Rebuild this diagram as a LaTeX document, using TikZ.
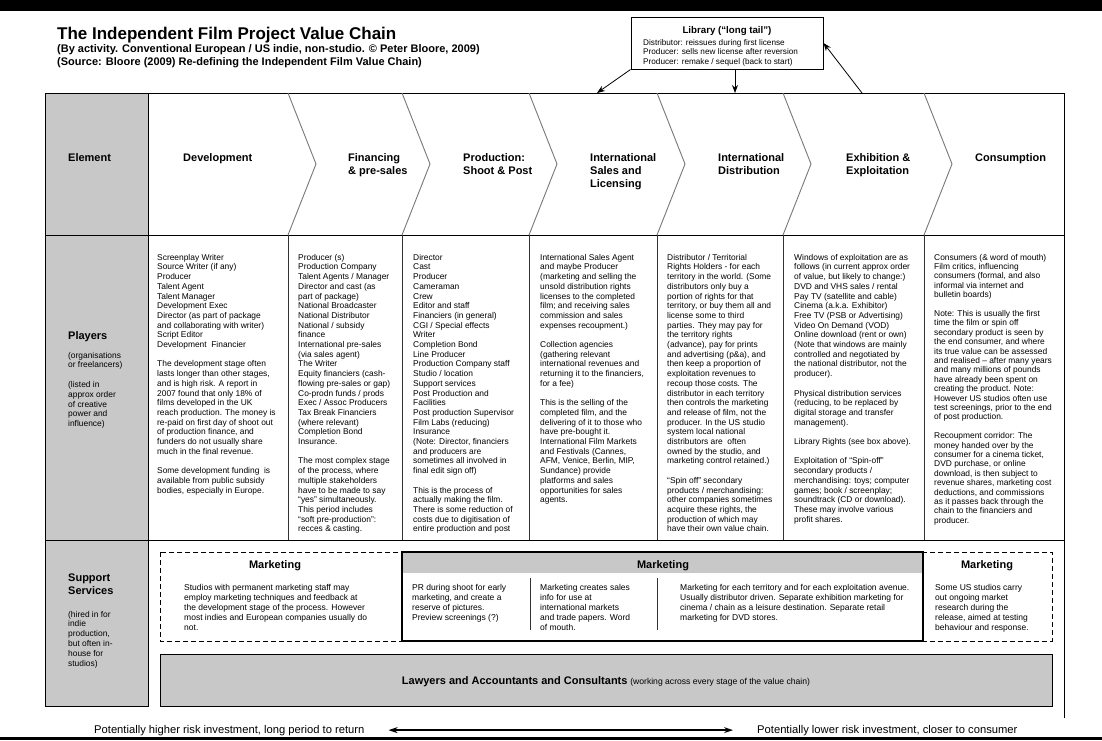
\documentclass[tikz,border=0pt]{standalone}
\usepackage{fontspec}
\setmainfont{Liberation Sans}
\usetikzlibrary{arrows.meta}
\definecolor{panel}{RGB}{200,200,200}
\definecolor{chevgrey}{RGB}{120,120,120}
\begin{document}
\begin{tikzpicture}[x=1pt,y=-1pt,
  every node/.style={inner sep=0pt},
  body/.style={anchor=north west, align=left, font=\fontsize{8.4}{9.7}\selectfont},
  bodyc/.style={anchor=north west, align=left, font=\fontsize{8.4}{9.4}\selectfont},
  stagelbl/.style={anchor=north west, align=left, font=\bfseries\fontsize{11}{13}\selectfont},
  rowlbl/.style={anchor=north west, align=left, font=\bfseries\fontsize{11}{13}\selectfont},
  rowsub/.style={anchor=north west, align=left, font=\fontsize{8.4}{9.8}\selectfont},
  mkhead/.style={anchor=base, font=\bfseries\fontsize{11}{13}\selectfont},
  mktext/.style={anchor=north west, align=left, font=\fontsize{8.5}{10}\selectfont},
  outline/.style={draw=black, line width=1pt},
  colsep/.style={draw=black!80, line width=0.8pt},
  chev/.style={draw=chevgrey, line width=0.9pt},
  dashbox/.style={draw=black, line width=1pt, dash pattern=on 5pt off 3pt},
  arr/.style={-{Stealth[length=8pt,width=6pt]}, line width=0.8pt},
  dblarr/.style={{Stealth[length=9pt,width=6pt]}-{Stealth[length=9pt,width=6pt]}, line width=1.4pt}
]
\useasboundingbox (0,0) rectangle (1102,740);
\fill[white] (0,0) rectangle (1102,740);
\fill[black] (0,0) rectangle (1102,11);
\fill[black] (0,737) rectangle (1102,740);

% title
\node[anchor=base west, font=\bfseries\fontsize{17}{19}\selectfont] (title) at (57,39) {The Independent Film Project Value Chain};
\node[anchor=base west, font=\bfseries\fontsize{11}{12}\selectfont] (sub1) at (57,52) {(By activity. Conventional European / US indie, non-studio. © Peter Bloore, 2009)};
\node[anchor=base west, font=\bfseries\fontsize{11}{12}\selectfont] (sub2) at (57,65) {(Source: Bloore (2009) Re-defining the Independent Film Value Chain)};

% library box
\node[draw=black, line width=1pt, fill=white, minimum width=192pt, minimum height=52pt] (lib) at (727,43) {};
\node[anchor=base, font=\bfseries\fontsize{9.7}{12}\selectfont] (libt) at (727,33.5) {Library (“long tail”)};
\node[anchor=north west, align=left, font=\fontsize{8.2}{9.5}\selectfont] (libx) at (643,38.4) {\strut Distributor: reissues during first license\\Producer: sells new license after reversion\\Producer: remake / sequel (back to start)};

% frame
\filldraw[fill=panel, outline] (45,93) rectangle (148,706);
\draw[outline] (148,93) -- (1064,93);
\draw[outline] (1064,93) -- (1064,718);
\draw[outline] (45,235) -- (1064,235);
\draw[outline] (45,540) -- (1064,540);
\foreach \x in {288,402,529,657,783,924} {
  \draw[colsep] (\x,235) -- (\x,540);
  \draw[chev] (\x,93) -- ({\x+28},164) -- (\x,235);
}

% arrows from library
\coordinate (isTop) at (597,93);
\coordinate (idTop) at (735,93);
\coordinate (exTop) at (862,93);
\draw[arr] (lib.south west) -- (isTop);
\draw[arr] (lib.south -| idTop) -- (idTop);
\draw[arr] (exTop) -- (lib.east);

% stage labels
\node[stagelbl] (s1) at (183,151.9) {\strut Development};
\node[stagelbl] (s2) at (348,151.9) {\strut Financing\\\& pre-sales};
\node[stagelbl] (s3) at (463,151.9) {\strut Production:\\Shoot \& Post};
\node[stagelbl] (s4) at (590,151.9) {\strut International\\Sales and\\Licensing};
\node[stagelbl] (s5) at (718,151.9) {\strut International\\Distribution};
\node[stagelbl] (s6) at (846,151.9) {\strut Exhibition \&\\Exploitation};
\node[stagelbl] (s7) at (975,151.9) {\strut Consumption};

% row labels
\node[rowlbl] (elem) at (68,151.9) {\strut Element};
\node[rowlbl] (play) at (68,329.9) {\strut Players};
\node[rowsub] (playsub) at (68,351.1) {\strut (organisations\\or freelancers)\\[9.8pt](listed in\\approx order\\of creative\\power and\\influence)};
\node[rowlbl] (supp) at (68,571.9) {\strut Support\\Services};
\node[rowsub] (suppsub) at (68,610.1) {\strut (hired in for\\indie\\production,\\but often in-\\house for\\studios)};

% players columns
\node[body] (p1) at (157,253.2) {\strut Screenplay Writer\\Source Writer (if any)\\Producer\\Talent Agent\\Talent Manager\\Development Exec\\Director (as part of package\\and collaborating with writer)\\Script Editor\\Development \ Financier\\[9.7pt]The development stage often\\lasts longer than other stages,\\and is high risk. A report in\\2007 found that only 18\% of\\films developed in the UK\\reach production. The money is\\re-paid on first day of shoot out\\of production finance, and\\funders do not usually share\\much in the final revenue.\\[9.7pt]Some development funding \ is\\available from public subsidy\\bodies, especially in Europe.};

\node[body] (p2) at (298,253.2) {\strut Producer (s)\\Production Company\\Talent Agents / Manager\\Director and cast (as\\part of package)\\National Broadcaster\\National Distributor\\National / subsidy\\finance\\International pre-sales\\(via sales agent)\\The Writer\\Equity financiers (cash-\\flowing pre-sales or gap)\\Co-prodn funds / prods\\Exec / Assoc Producers\\Tax Break Financiers\\(where relevant)\\Completion Bond\\Insurance.\\[9.7pt]The most complex stage\\of the process, where\\multiple stakeholders\\have to be made to say\\“yes” simultaneously.\\This period includes\\“soft pre-production”:\\recces \& casting.};

\node[body] (p3) at (413,253.2) {\strut Director\\Cast\\Producer\\Cameraman\\Crew\\Editor and staff\\Financiers (in general)\\CGI / Special effects\\Writer\\Completion Bond\\Line Producer\\Production Company staff\\Studio / location\\Support services\\Post Production and\\Facilities\\Post production Supervisor\\Film Labs (reducing)\\Insurance\\(Note: Director, financiers\\and producers are\\sometimes all involved in\\final edit sign off)\\[9.7pt]This is the process of\\actually making the film.\\There is some reduction of\\costs due to digitisation of\\entire production and post};

\node[body] (p4) at (540,253.2) {\strut International Sales Agent\\and maybe Producer\\(marketing and selling the\\unsold distribution rights\\licenses to the completed\\film; and receiving sales\\commission and sales\\expenses recoupment.)\\[9.7pt]Collection agencies\\(gathering relevant\\international revenues and\\returning it to the financiers,\\for a fee)\\[9.7pt]This is the selling of the\\completed film, and the\\delivering of it to those who\\have pre-bought it.\\International Film Markets\\and Festivals (Cannes,\\AFM, Venice, Berlin, MIP,\\Sundance) provide\\platforms and sales\\opportunities for sales\\agents.};

\node[body] (p5) at (667,253.2) {\strut Distributor / Territorial\\Rights Holders - for each\\territory in the world. (Some\\distributors only buy a\\portion of rights for that\\territory, or buy them all and\\license some to third\\parties. They may pay for\\the territory rights\\(advance), pay for prints\\and advertising (p\&a), and\\then keep a proportion of\\exploitation revenues to\\recoup those costs. The\\distributor in each territory\\then controls the marketing\\and release of film, not the\\producer. In the US studio\\system local national\\distributors are \ often\\owned by the studio, and\\marketing control retained.)\\[9.7pt]“Spin off” secondary\\products / merchandising:\\other companies sometimes\\acquire these rights, the\\production of which may\\have their own value chain.};

\node[body] (p6) at (794,253.2) {\strut Windows of exploitation are as\\follows (in current approx order\\of value, but likely to change:)\\DVD and VHS sales / rental\\Pay TV (satellite and cable)\\Cinema (a.k.a. Exhibitor)\\Free TV (PSB or Advertising)\\Video On Demand (VOD)\\Online download (rent or own)\\(Note that windows are mainly\\controlled and negotiated by\\the national distributor, not the\\producer).\\[9.7pt]Physical distribution services\\(reducing, to be replaced by\\digital storage and transfer\\management).\\[9.7pt]Library Rights (see box above).\\[9.7pt]Exploitation of “Spin-off”\\secondary products /\\merchandising: toys; computer\\games; book / screenplay;\\soundtrack (CD or download).\\These may involve various\\profit shares.};

\node[bodyc] (p7) at (934,253.4) {\strut Consumers (\& word of mouth)\\Film critics, influencing\\consumers (formal, and also\\informal via internet and\\bulletin boards)\\[9.4pt]Note: This is usually the first\\time the film or spin off\\secondary product is seen by\\the end consumer, and where\\its true value can be assessed\\and realised -- after many years\\and many millions of pounds\\have already been spent on\\creating the product. Note:\\However US studios often use\\test screenings, prior to the end\\of post production.\\[9.4pt]Recoupment corridor: The\\money handed over by the\\consumer for a cinema ticket,\\DVD purchase, or online\\download, is then subject to\\revenue shares, marketing cost\\deductions, and commissions\\as it passes back through the\\chain to the financiers and\\producer.};

% support services
\draw[dashbox] (160,552) rectangle (402,641);
\fill[panel] (402,552) rectangle (923,573);
\draw[draw=black, line width=1.3pt] (402,552) rectangle (923,641);
\draw[colsep] (530,578) -- (530,630);
\draw[colsep] (657,578) -- (657,630);
\draw[dashbox] (923,552) rectangle (1052,641);

\node[mkhead] (m1) at (275,568) {Marketing};
\node[mkhead] (m2) at (663,568) {Marketing};
\node[mkhead] (m3) at (987,568) {Marketing};
\node[mktext] (t1) at (184,583) {\strut Studios with permanent marketing staff may\\employ marketing techniques and feedback at\\the development stage of the process. However\\most indies and European companies usually do\\not.};
\node[mktext] (t2) at (412,583) {\strut PR during shoot for early\\marketing, and create a\\reserve of pictures.\\Preview screenings (?)};
\node[mktext] (t3) at (540,583) {\strut Marketing creates sales\\info for use at\\international markets\\and trade papers. Word\\of mouth.};
\node[mktext] (t4) at (680,583) {\strut Marketing for each territory and for each exploitation avenue.\\Usually distributor driven. Separate exhibition marketing for\\cinema / chain as a leisure destination. Separate retail\\marketing for DVD stores.};
\node[mktext] (t5) at (935,583) {\strut Some US studios carry\\out ongoing market\\research during the\\release, aimed at testing\\behaviour and response.};

% lawyers
\filldraw[fill=panel, outline] (160,654) rectangle (1052,706);
\node[anchor=base] (law) at (606,684) {{\bfseries\fontsize{11}{13}\selectfont Lawyers and Accountants and Consultants} {\fontsize{8.6}{10}\selectfont (working across every stage of the value chain)}};

% bottom
\node[anchor=base west, font=\fontsize{11.2}{13}\selectfont] (lt) at (94,733) {Potentially higher risk investment, long period to return};
\node[anchor=base west, font=\fontsize{11.2}{13}\selectfont] (rt) at (757,733) {Potentially lower risk investment, closer to consumer};
\draw[dblarr] ([xshift=24pt]lt.east) -- ([xshift=-24pt]rt.west);
\end{tikzpicture}
\end{document}
